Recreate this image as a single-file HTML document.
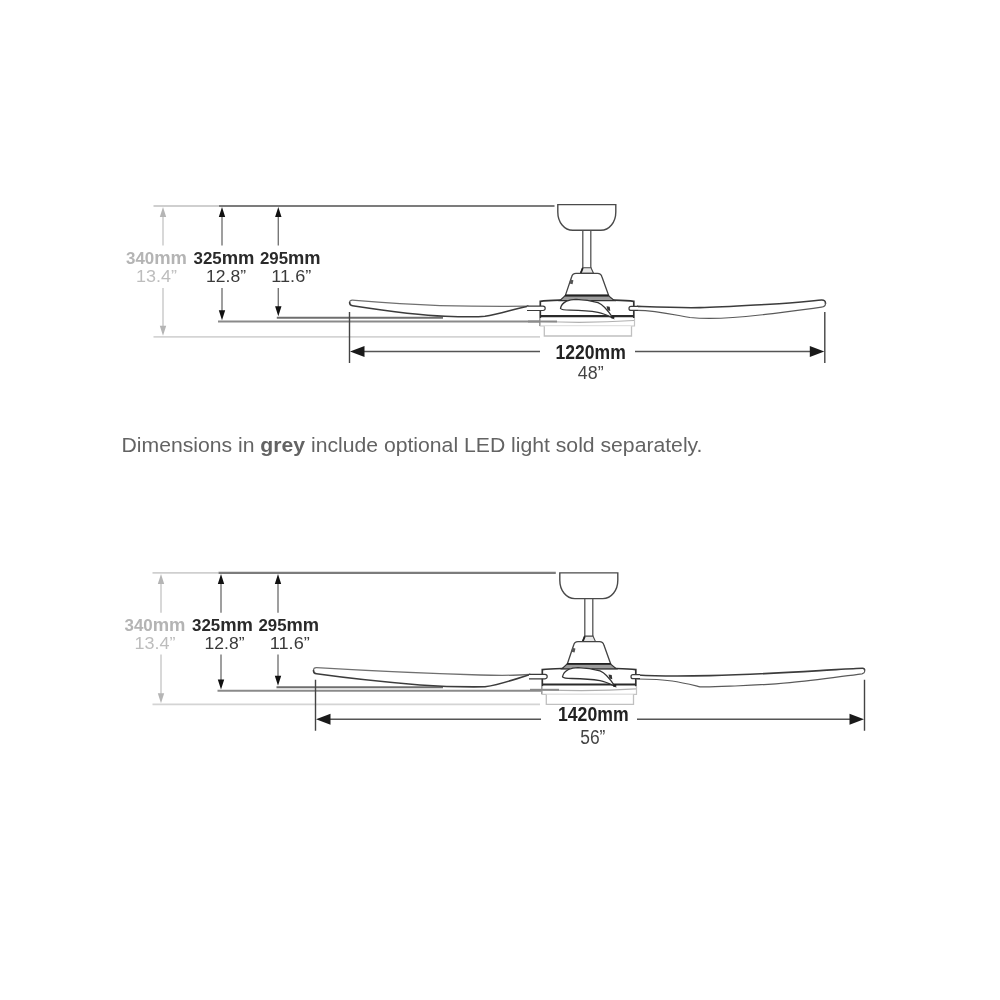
<!DOCTYPE html>
<html><head><meta charset="utf-8"><style>
html,body{margin:0;padding:0;background:#fff;width:1000px;height:1000px;overflow:hidden}
svg{display:block;filter:blur(0.35px)}
text{font-family:"Liberation Sans", sans-serif}
</style></head><body>
<svg width="1000" height="1000" viewBox="0 0 1000 1000"><rect width="1000" height="1000" fill="#fff"/><g><path d="M153.5,206 H219" stroke="#cfcfcf" stroke-width="1.8"/><path d="M219,206 H554.5" stroke="#7c7c7c" stroke-width="2.1"/><path d="M153.5,336.8 H540" stroke="#d4d4d4" stroke-width="1.8"/><path d="M218,321.5 H541" stroke="#8a8a8a" stroke-width="2"/><path d="M276.8,317.7 H443" stroke="#6e6e6e" stroke-width="1.9"/><path d="M163,216 V245.5 M163,288 V326.8" stroke="#c8c8c8" stroke-width="1.4"/><path d="M163,207 L159.8,217 H166.2 Z M163,335.8 L159.8,325.8 H166.2 Z" fill="#b5b5b5"/><path d="M222,216 V245.5 M222,288 V311.3" stroke="#777" stroke-width="1.4"/><path d="M222,207 L218.8,217 H225.2 Z M222,320.3 L218.8,310.3 H225.2 Z" fill="#111"/><path d="M278.3,216 V245.5 M278.3,288 V307.2" stroke="#777" stroke-width="1.4"/><path d="M278.3,207 L275.1,217 H281.5 Z M278.3,316.2 L275.1,306.2 H281.5 Z" fill="#111"/></g><path d="M528,306.2 C510,306.4 470,306.3 440,305.6 C400,304 370,301.5 352.5,300.1 Q349.6,300 349.6,302.6 L349.6,302.6 Q349.6,305.4 352.5,305.8 C390,311.5 420,315.5 445,316.3 C465,317 478,317 485,316.2 C500,313.6 514,309 528,306.2 Z" fill="#fff" stroke="none"/><path d="M528,306.2 C510,306.4 470,306.3 440,305.6 C400,304 370,301.5 352.5,300.1 Q349.6,300 349.6,302.6" fill="none" stroke="#707070" stroke-width="1.3" stroke-linecap="round"/><path d="M349.6,302.6 Q349.6,305.4 352.5,305.8 C390,311.5 420,315.5 445,316.3 C465,317 478,317 485,316.2 C500,313.6 514,309 528,306.2" fill="none" stroke="#3c3c3c" stroke-width="1.6" stroke-linecap="round"/><path d="M637.5,306.4 C660,307.2 680,308 700,307.6 C720,307.2 730,306.5 770,304.2 C790,303 805,301.5 821.5,300 Q825.5,299.8 825.5,303.4 L825.5,303.4 Q825.5,306.5 821.5,307.2 C800,310.5 780,312.5 760,315 C730,318.5 705,319 690,317.5 C670,314 655,310.5 637.5,310.4 Z" fill="#fff" stroke="none"/><path d="M637.5,306.4 C660,307.2 680,308 700,307.6 C720,307.2 730,306.5 770,304.2 C790,303 805,301.5 821.5,300 Q825.5,299.8 825.5,303.4" fill="none" stroke="#3c3c3c" stroke-width="1.6" stroke-linecap="round"/><path d="M825.5,303.4 Q825.5,306.5 821.5,307.2 C800,310.5 780,312.5 760,315 C730,318.5 705,319 690,317.5 C670,314 655,310.5 637.5,310.4" fill="none" stroke="#5a5a5a" stroke-width="1.2" stroke-linecap="round"/><g transform="translate(0,0)"><path d="M557.8,204.6 H615.8 V212 C615.8,222.3 609.3,230.3 600.8,230.3 H572.8 C564.3,230.3 557.8,222.3 557.8,212 Z" fill="#fff" stroke="#4a4a4a" stroke-width="1.4"/><path d="M582.8,230.5 V268 M590.8,230.5 V268" stroke="#555" stroke-width="1.3" fill="none"/><path d="M580.5,273.3 L582.6,267.8 H591 L593.5,273.3 Z" fill="#e8e8e8" stroke="#444" stroke-width="1.1"/><path d="M580.8,273 L582.8,268" stroke="#222" stroke-width="1.8"/><path d="M565.4,295.4 L571.6,277 Q572.5,273.3 576,273.3 H597.5 Q601,273.3 602,277 L608.6,295.4 Z" fill="#fff" stroke="#444" stroke-width="1.3"/><path d="M570.2,279.5 l3.2,0.8 l-0.8,4 l-3.2,-0.8 z" fill="#555"/><path d="M540.3,326 V301.3 Q546,300.4 560,300.2 H614 Q628,300.4 633.8,301.3 V326" fill="#fff" stroke="#333" stroke-width="1.7"/><path d="M540.3,318 V326 H634.5 V318" fill="#fff" stroke="#c4c4c4" stroke-width="1.2"/><path d="M559.8,300.6 L565,295.8 H608.6 L614.4,300.6 Z" fill="#9c9c9c" stroke="#333" stroke-width="1.2"/><path d="M565,295.4 H608.6" stroke="#222" stroke-width="1.6"/><path d="M540.3,316.2 H634" stroke="#2a2a2a" stroke-width="2.2"/><path d="M541,321.5 Q590,323.5 634,320.5" stroke="#b0b0b0" stroke-width="1.2" fill="none"/><path d="M528,321.5 H557" stroke="#8a8a8a" stroke-width="2"/><path d="M560.5,308.5 C561,305.5 563,303 566.5,301.2 C569,300 572,299.3 576,299.3 C584,299.5 592,300.8 598,302.6 C603,304.5 607,309 612.8,317.8 C607,315 603,313.2 598,312.3 C590,311 580,310.4 570,310.2 C565,310.1 561.5,310 560.5,308.5 Z" fill="#fff" stroke="#333" stroke-width="1.3"/><path d="M606.5,306.3 l3.2,0.4 l0.6,4.2 l-2.8,-0.6 z" fill="#333"/><path d="M611,316.8 l3,-1 l0.5,2.5 l-3,0.3 z" fill="#222"/><path d="M544.3,326.3 V336 H631.5 V326.3" fill="#fff" stroke="#c0c0c0" stroke-width="1.3"/><path d="M527,306.1 H543 A2.2,2.2 0 0 1 543,310.5 H527" fill="#fff" stroke="#3a3a3a" stroke-width="1.2"/><path d="M638,306.4 H631 A2,2 0 0 0 631,310.4 H638" fill="#fff" stroke="#3a3a3a" stroke-width="1.2"/></g><g transform="translate(0,0)" font-family="Liberation Sans, sans-serif"><text x="126" y="263.9" font-size="17" font-weight="bold" fill="#b4b4b4" textLength="61" lengthAdjust="spacingAndGlyphs">340<tspan font-size="18.5">mm</tspan></text><text x="136" y="281.6" font-size="17" fill="#bdbdbd" textLength="41" lengthAdjust="spacingAndGlyphs">13.4”</text><text x="193.5" y="263.9" font-size="17" font-weight="bold" fill="#2a2a2a" textLength="61" lengthAdjust="spacingAndGlyphs">325<tspan font-size="18.5">mm</tspan></text><text x="206" y="281.6" font-size="17" fill="#3a3a3a" textLength="40" lengthAdjust="spacingAndGlyphs">12.8”</text><text x="260" y="263.9" font-size="17" font-weight="bold" fill="#2a2a2a" textLength="60.6" lengthAdjust="spacingAndGlyphs">295<tspan font-size="18.5">mm</tspan></text><text x="271.3" y="281.6" font-size="17" fill="#3a3a3a" textLength="40" lengthAdjust="spacingAndGlyphs">11.6”</text></g><path d="M349.5,312.1 V363.1 M824.8,312.1 V363.1" stroke="#444" stroke-width="1.4"/><path d="M361.5,351.6 H540 M635,351.6 H812.8" stroke="#555" stroke-width="1.5"/><path d="M350.0,351.6 L364.5,346.1 V357.1 Z M824.3,351.6 L809.8,346.1 V357.1 Z" fill="#1a1a1a"/><text x="555.6" y="358.8" font-family="Liberation Sans, sans-serif" font-size="19.3" font-weight="bold" fill="#222" textLength="70.2" lengthAdjust="spacingAndGlyphs">1220mm</text><text x="577.8" y="379.2" font-family="Liberation Sans, sans-serif" font-size="18.8" fill="#444" textLength="25.8" lengthAdjust="spacingAndGlyphs">48”</text><text x="121.5" y="451.5" font-family="Liberation Sans, sans-serif" font-size="20.5" fill="#636363" textLength="581" lengthAdjust="spacingAndGlyphs">Dimensions in <tspan font-weight="bold">grey</tspan> include optional LED light sold separately.</text><g><path d="M152.5,572.9 H218.5" stroke="#cfcfcf" stroke-width="1.8"/><path d="M218.5,572.9 H555.8" stroke="#7c7c7c" stroke-width="2.1"/><path d="M152.5,704.3 H540" stroke="#d4d4d4" stroke-width="1.8"/><path d="M217.5,690.7 H541" stroke="#8a8a8a" stroke-width="2"/><path d="M276.5,687.3 H443" stroke="#6e6e6e" stroke-width="1.9"/><path d="M161,582.9 V612.8 M161,654.5 V694.3" stroke="#c8c8c8" stroke-width="1.4"/><path d="M161,573.9 L157.8,583.9 H164.2 Z M161,703.3 L157.8,693.3 H164.2 Z" fill="#b5b5b5"/><path d="M221,582.9 V612.8 M221,654.5 V680.5" stroke="#777" stroke-width="1.4"/><path d="M221,573.9 L217.8,583.9 H224.2 Z M221,689.5 L217.8,679.5 H224.2 Z" fill="#111"/><path d="M278,582.9 V612.8 M278,654.5 V676.8" stroke="#777" stroke-width="1.4"/><path d="M278,573.9 L274.8,583.9 H281.2 Z M278,685.8 L274.8,675.8 H281.2 Z" fill="#111"/></g><path d="M530,674.5 C520,675.2 500,675.5 480,675 C440,673.8 400,672.6 316.5,667.6 Q313.5,667.5 313.5,670.5 L313.5,670.5 Q313.5,673.5 316.5,673.8 C350,678.5 390,682.5 420,685 C445,686.8 470,687 485,686.8 C500,684.5 515,679.5 530,674.5 Z" fill="#fff" stroke="none"/><path d="M530,674.5 C520,675.2 500,675.5 480,675 C440,673.8 400,672.6 316.5,667.6 Q313.5,667.5 313.5,670.5" fill="none" stroke="#707070" stroke-width="1.3" stroke-linecap="round"/><path d="M313.5,670.5 Q313.5,673.5 316.5,673.8 C350,678.5 390,682.5 420,685 C445,686.8 470,687 485,686.8 C500,684.5 515,679.5 530,674.5" fill="none" stroke="#3c3c3c" stroke-width="1.6" stroke-linecap="round"/><path d="M637.5,675 C660,676.4 690,676 710,675.6 C750,674.8 790,672.4 820,670.6 C840,669.4 855,668.3 862.5,668.2 Q864.6,668.2 864.6,670 L864.6,670 V671.8 Q864.6,673.2 862,673.8 C830,678 810,681 790,682.6 C765,685 745,685.6 730,686.2 C715,686.8 705,687 700,686.8 C680,682 670,679.2 637.5,679 Z" fill="#fff" stroke="none"/><path d="M637.5,675 C660,676.4 690,676 710,675.6 C750,674.8 790,672.4 820,670.6 C840,669.4 855,668.3 862.5,668.2 Q864.6,668.2 864.6,670" fill="none" stroke="#3c3c3c" stroke-width="1.6" stroke-linecap="round"/><path d="M864.6,670 V671.8 Q864.6,673.2 862,673.8 C830,678 810,681 790,682.6 C765,685 745,685.6 730,686.2 C715,686.8 705,687 700,686.8 C680,682 670,679.2 637.5,679" fill="none" stroke="#5a5a5a" stroke-width="1.2" stroke-linecap="round"/><g transform="translate(2,368.3)"><path d="M557.8,204.6 H615.8 V212 C615.8,222.3 609.3,230.3 600.8,230.3 H572.8 C564.3,230.3 557.8,222.3 557.8,212 Z" fill="#fff" stroke="#4a4a4a" stroke-width="1.4"/><path d="M582.8,230.5 V268 M590.8,230.5 V268" stroke="#555" stroke-width="1.3" fill="none"/><path d="M580.5,273.3 L582.6,267.8 H591 L593.5,273.3 Z" fill="#e8e8e8" stroke="#444" stroke-width="1.1"/><path d="M580.8,273 L582.8,268" stroke="#222" stroke-width="1.8"/><path d="M565.4,295.4 L571.6,277 Q572.5,273.3 576,273.3 H597.5 Q601,273.3 602,277 L608.6,295.4 Z" fill="#fff" stroke="#444" stroke-width="1.3"/><path d="M570.2,279.5 l3.2,0.8 l-0.8,4 l-3.2,-0.8 z" fill="#555"/><path d="M540.3,326 V301.3 Q546,300.4 560,300.2 H614 Q628,300.4 633.8,301.3 V326" fill="#fff" stroke="#333" stroke-width="1.7"/><path d="M540.3,318 V326 H634.5 V318" fill="#fff" stroke="#c4c4c4" stroke-width="1.2"/><path d="M559.8,300.6 L565,295.8 H608.6 L614.4,300.6 Z" fill="#9c9c9c" stroke="#333" stroke-width="1.2"/><path d="M565,295.4 H608.6" stroke="#222" stroke-width="1.6"/><path d="M540.3,316.2 H634" stroke="#2a2a2a" stroke-width="2.2"/><path d="M541,321.5 Q590,323.5 634,320.5" stroke="#b0b0b0" stroke-width="1.2" fill="none"/><path d="M528,321.5 H557" stroke="#8a8a8a" stroke-width="2"/><path d="M560.5,308.5 C561,305.5 563,303 566.5,301.2 C569,300 572,299.3 576,299.3 C584,299.5 592,300.8 598,302.6 C603,304.5 607,309 612.8,317.8 C607,315 603,313.2 598,312.3 C590,311 580,310.4 570,310.2 C565,310.1 561.5,310 560.5,308.5 Z" fill="#fff" stroke="#333" stroke-width="1.3"/><path d="M606.5,306.3 l3.2,0.4 l0.6,4.2 l-2.8,-0.6 z" fill="#333"/><path d="M611,316.8 l3,-1 l0.5,2.5 l-3,0.3 z" fill="#222"/><path d="M544.3,326.3 V336 H631.5 V326.3" fill="#fff" stroke="#c0c0c0" stroke-width="1.3"/><path d="M527,306.1 H543 A2.2,2.2 0 0 1 543,310.5 H527" fill="#fff" stroke="#3a3a3a" stroke-width="1.2"/><path d="M638,306.4 H631 A2,2 0 0 0 631,310.4 H638" fill="#fff" stroke="#3a3a3a" stroke-width="1.2"/></g><g transform="translate(-1.5,367.3)" font-family="Liberation Sans, sans-serif"><text x="126" y="263.9" font-size="17" font-weight="bold" fill="#b4b4b4" textLength="61" lengthAdjust="spacingAndGlyphs">340<tspan font-size="18.5">mm</tspan></text><text x="136" y="281.6" font-size="17" fill="#bdbdbd" textLength="41" lengthAdjust="spacingAndGlyphs">13.4”</text><text x="193.5" y="263.9" font-size="17" font-weight="bold" fill="#2a2a2a" textLength="61" lengthAdjust="spacingAndGlyphs">325<tspan font-size="18.5">mm</tspan></text><text x="206" y="281.6" font-size="17" fill="#3a3a3a" textLength="40" lengthAdjust="spacingAndGlyphs">12.8”</text><text x="260" y="263.9" font-size="17" font-weight="bold" fill="#2a2a2a" textLength="60.6" lengthAdjust="spacingAndGlyphs">295<tspan font-size="18.5">mm</tspan></text><text x="271.3" y="281.6" font-size="17" fill="#3a3a3a" textLength="40" lengthAdjust="spacingAndGlyphs">11.6”</text></g><path d="M315.5,679.8 V730.8 M864.5,679.8 V730.8" stroke="#444" stroke-width="1.4"/><path d="M327.5,719.3 H541 M637,719.3 H852.5" stroke="#555" stroke-width="1.5"/><path d="M316.0,719.3 L330.5,713.8 V724.8 Z M864.0,719.3 L849.5,713.8 V724.8 Z" fill="#1a1a1a"/><text x="558" y="721.4" font-family="Liberation Sans, sans-serif" font-size="19.6" font-weight="bold" fill="#222" textLength="70.6" lengthAdjust="spacingAndGlyphs">1420mm</text><text x="580.2" y="744.2" font-family="Liberation Sans, sans-serif" font-size="19.5" fill="#444" textLength="25.2" lengthAdjust="spacingAndGlyphs">56”</text></svg>
</body></html>
